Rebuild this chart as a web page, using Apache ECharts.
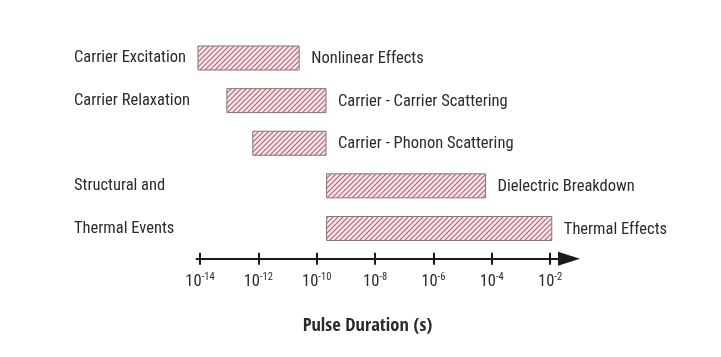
<!DOCTYPE html>
<html>
<head>
<meta charset="utf-8">
<script src="https://cdn.jsdelivr.net/npm/echarts@6/dist/echarts.min.js"></script>
<style>
html,body{margin:0;padding:0;background:#fff;}
#chart{width:721px;height:357px;}
</style>
</head>
<body>
<div id="chart"></div>
<script>
// Row (left) labels
const rowLabels = ['Carrier Excitation', 'Carrier Relaxation', '', 'Structural and', 'Thermal Events'];
// Bar ranges as log10(pulse duration in s)
const barStart = [-14.07, -13.08, -12.19, -9.66, -9.66];
const barEnd = [-10.6, -9.68, -9.68, -4.21, -1.94];
const barLabels = ['Nonlinear Effects', 'Carrier - Carrier Scattering', 'Carrier - Phonon Scattering', 'Dielectric Breakdown', 'Thermal Effects'];
const tickExponents = [-14, -12, -10, -8, -6, -4, -2];
const axisTitle = 'Pulse Duration (s)';

const FONT = '"Roboto Condensed", "Liberation Sans", sans-serif';
const BOLDFONT = '"Open Sans Condensed", "Roboto Condensed", sans-serif';
const TXT = '#2b2b2b';

// hatch pattern
const pc = document.createElement('canvas');
pc.width = 5; pc.height = 5;
const g = pc.getContext('2d');
g.fillStyle = '#f7e4e7';
g.fillRect(0, 0, 5, 5);
g.strokeStyle = '#b06a78';
g.lineWidth = 1.2;
g.beginPath();
g.moveTo(-1, 6); g.lineTo(6, -1);
g.moveTo(-1, 1); g.lineTo(1, -1);
g.moveTo(4, 6); g.lineTo(6, 4);
g.stroke();

const barData = barStart.map((s, i) => [s, barEnd[i], i, barLabels[i]]);

const chart = echarts.init(document.getElementById('chart'), null, {renderer: 'canvas'});

const xMin = -14.12, xMax = -1.35;

chart.setOption({
  animation: false,
  grid: {left: 196.5, right: 152, top: 36.7, bottom: 107.2},
  xAxis: [{
    type: 'value', min: xMin, max: xMax, position: 'bottom', offset: 9,
    splitLine: {show: false},
    axisLine: {show: true, lineStyle: {color: '#1a1a1a', width: 2},
      symbol: ['none', 'triangle'], symbolSize: [14, 22], symbolOffset: [0, 0]},
    axisTick: {show: true, length: 6, lineStyle: {color: '#1a1a1a', width: 2}, customValues: tickExponents},
    axisLabel: {
      customValues: tickExponents, margin: 13,
      formatter: v => '{b|10}{s|' + v + '}',
      rich: {
        b: {fontFamily: FONT, fontSize: 16.5, color: TXT},
        s: {fontFamily: FONT, fontSize: 10.5, color: TXT, padding: [0, 0, 9, 0]}
      }
    }
  }, {
    type: 'value', min: xMin, max: xMax, position: 'bottom', offset: 9,
    splitLine: {show: false},
    axisLine: {show: false},
    axisTick: {show: true, inside: true, length: 6, lineStyle: {color: '#1a1a1a', width: 2}, customValues: tickExponents},
    axisLabel: {show: false}
  }],
  yAxis: {
    type: 'category', inverse: true, data: rowLabels,
    axisLine: {show: false}, axisTick: {show: false}, splitLine: {show: false},
    axisLabel: {align: 'left', margin: 122.5, fontFamily: FONT, fontSize: 16.5, color: TXT, padding: [4, 0, 0, 0]}
  },
  graphic: [{
    type: 'text', x: 367.5, y: 326,
    style: {text: axisTitle, x: 0, y: 0, fontFamily: BOLDFONT, fontSize: 18.5, fontWeight: 'bold', fill: TXT, align: 'center', verticalAlign: 'middle'}
  }],
  series: [{
    type: 'custom',
    xAxisIndex: 0,
    data: barData,
    renderItem: function (params, api) {
      const s = api.coord([api.value(0), api.value(2)]);
      const e = api.coord([api.value(1), api.value(2)]);
      const h = 24;
      return {
        type: 'group',
        children: [{
          type: 'rect',
          shape: {x: s[0], y: s[1] - h / 2, width: e[0] - s[0], height: h},
          style: {fill: {image: pc, repeat: 'repeat'}, stroke: '#857575', lineWidth: 1}
        }, {
          type: 'text',
          style: {text: barLabels[params.dataIndex], x: e[0] + 12, y: s[1] + 1, fontFamily: FONT, fontSize: 16.5, fill: TXT, align: 'left', verticalAlign: 'middle'}
        }]
      };
    }
  }]
});
</script>
</body>
</html>
